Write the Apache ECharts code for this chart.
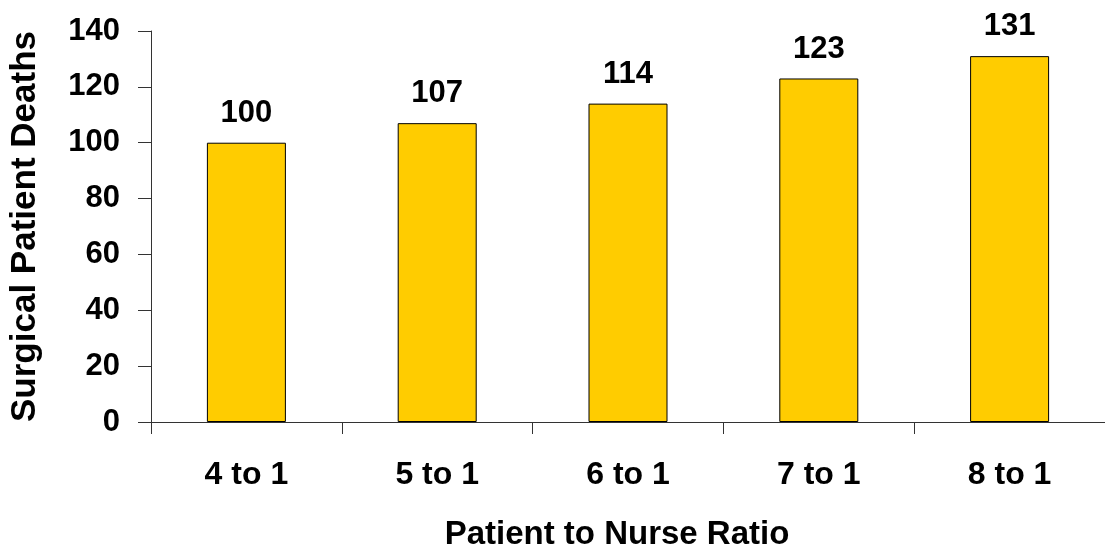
<!DOCTYPE html>
<html>
<head>
<meta charset="utf-8">
<script src="https://cdn.jsdelivr.net/npm/echarts@6/dist/echarts.min.js"></script>
<style>
html,body{margin:0;padding:0;background:#fff;}
#chart{width:1105px;height:556px;}
</style>
</head>
<body>
<div id="chart"></div>
<script>
const categories = ['4 to 1', '5 to 1', '6 to 1', '7 to 1', '8 to 1'];
const deaths = [100, 107, 114, 123, 131];
const yTicks = [0, 20, 40, 60, 80, 100, 120, 140];

const FONT = '"Liberation Sans", Arial, sans-serif';
const chart = echarts.init(document.getElementById('chart'));
chart.setOption({
  animation: false,
  backgroundColor: '#ffffff',
  grid: { left: 151, right: -16, top: 31, bottom: 129, containLabel: false },
  xAxis: {
    type: 'category',
    data: categories,
    name: 'Patient to Nurse Ratio',
    nameLocation: 'middle',
    nameGap: 96,
    nameTextStyle: { fontFamily: FONT, fontWeight: 'bold', fontSize: 33, color: '#000', padding: [0, 22, 0, 0] },
    axisLine: { lineStyle: { color: '#333', width: 1 } },
    axisTick: { show: true, length: 12, alignWithLabel: false, lineStyle: { color: '#333' } },
    axisLabel: { fontFamily: FONT, fontWeight: 'bold', fontSize: 32, color: '#000', margin: 37 },
    splitLine: { show: false }
  },
  yAxis: {
    type: 'value',
    min: yTicks[0],
    max: yTicks[yTicks.length - 1],
    interval: 20,
    name: 'Surgical Patient Deaths',
    nameLocation: 'middle',
    nameGap: 108,
    nameRotate: 90,
    nameTextStyle: { fontFamily: FONT, fontWeight: 'bold', fontSize: 35, color: '#000' },
    axisLine: { show: true, lineStyle: { color: '#333', width: 1 } },
    axisTick: { show: true, length: 13, inside: false, lineStyle: { color: '#333' } },
    axisLabel: { fontFamily: FONT, fontWeight: 'bold', fontSize: 31, color: '#000', margin: 31 },
    splitLine: { show: false }
  },
  series: [{
    type: 'bar',
    data: deaths,
    barWidth: 79,
    itemStyle: { color: '#FFCC00', borderColor: '#000', borderWidth: 1 },
    label: { show: true, position: 'top', distance: 14, fontFamily: FONT, fontWeight: 'bold', fontSize: 31, color: '#000' }
  }]
});
</script>
</body>
</html>
